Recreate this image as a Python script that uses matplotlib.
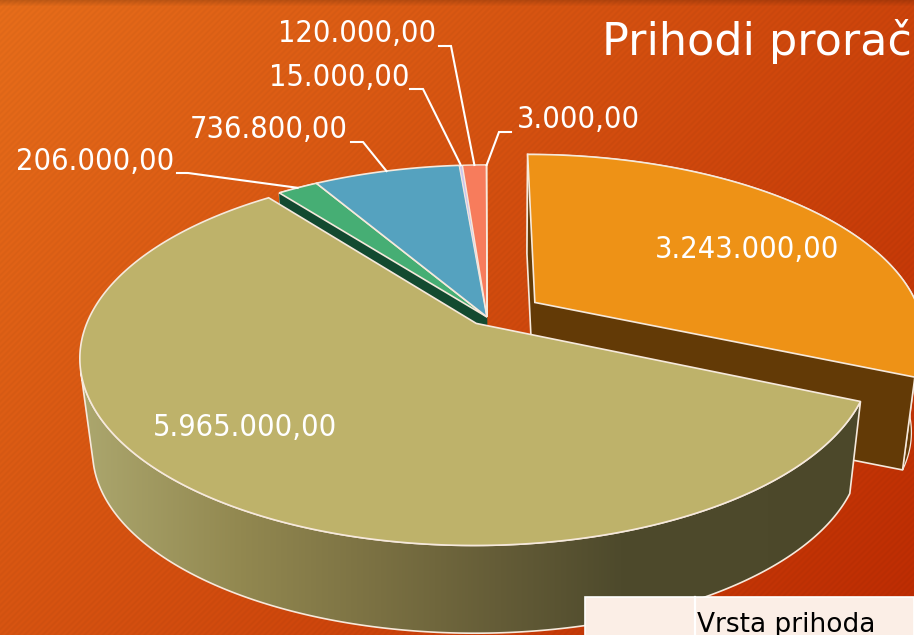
import numpy as np
from matplotlib import pyplot as plt
from matplotlib.patches import Polygon, Rectangle

# values in clockwise order from 12 o'clock
values = [3243000, 5965000, 206000, 736800, 15000, 120000, 3000]
top_colours = ["#ee9216", "#beb26a", "#46ae74", "#55a2bf", "#c9c6f0", "#f77c5c", "#f3d9cc"]
wall_colours = ["#633a06", "#4c4a2c", "#134a30", "#134a30", "#134a30", "#134a30", "#134a30"]
edge_widths = [1.2, 1.2, 1.2, 1.2, 0.4, 1.0, 0.8]
explode = [0.15, 0.045, 0, 0, 0, 0, 0]

# label position (left, centre y) and leader elbow for the outside labels
label_pos = [(655, 250), (153, 428), (16, 161), (190, 129), (269, 77), (278, 33), (517, 120)]
leaders = {
    2: [(177, 173), (188, 173)],
    3: [(351, 142), (363, 142)],
    4: [(410, 89), (423, 89)],
    5: [(439, 46), (451, 46)],
    6: [(511, 132), (499, 132)],
}

# perspective of the pie, in pixels
CX, CY = 487, 317
RX, RY = 387, 179.5
K = 0.18
# bottom plane is the top plane scaled towards a vanishing point
VX, VY, S = 505, 3470, 0.97

EDGE = "#f6e9dc"
FONT = dict(family="DejaVu Sans", stretch="condensed")


def project(X, Y):
    w = 1 + K * Y
    return CX + RX * X / w, CY - RY * Y / w


def lower(x, y):
    return VX + S * (x - VX), VY + S * (y - VY)


fig = plt.figure(figsize=(9.14, 6.35), dpi=100)
ax = fig.add_axes([0, 0, 1, 1])

# background: diagonal gradient, fine stripes, dark strip along the top
yy, xx = np.mgrid[0:635, 0:914]
t = np.clip(xx / 914 * 0.62 + yy / 635 * 0.38, 0, 1)
c0 = np.array([228, 108, 26])
c1 = np.array([186, 42, 2])
bg = c0[None, None, :] * (1 - t[..., None]) + c1[None, None, :] * t[..., None]
stripes = 1 + 0.018 * np.sin((xx + yy) * 2 * np.pi / 6)
top_strip = 1 - 0.16 * np.clip(1 - yy / 6, 0, 1)
bg = bg * stripes[..., None] * top_strip[..., None]
ax.imshow(bg.astype(np.uint8), extent=(0, 914, 635, 0), aspect="auto", zorder=0,
          interpolation="nearest")

angles = np.concatenate([[0], np.cumsum(values) / np.sum(values) * 360])
mid_points = {}
geometry = {}
for i in range(len(values)):
    th = np.radians(np.linspace(angles[i], angles[i + 1], 400))
    mid = np.radians((angles[i] + angles[i + 1]) / 2)
    ex, ey = explode[i] * np.sin(mid), explode[i] * np.cos(mid)
    ax_x, ax_y = project(ex, ey)
    arc_x, arc_y = project(ex + np.sin(th), ey + np.cos(th))
    mid_points[i] = project(ex + np.sin(mid), ey + np.cos(mid))
    geometry[i] = (ax_x, ax_y, arc_x, arc_y)

z = 1


def draw_walls(i, radial_ends):
    global z
    ax_x, ax_y, arc_x, arc_y = geometry[i]
    low_x, low_y = lower(arc_x, arc_y)
    low_ax, low_ay = lower(ax_x, ax_y)
    if i == 1:
        # cut the rim where it folds behind the top, so the left side gets a straight edge
        cross = np.gradient(arc_x) * (low_y - arc_y) - np.gradient(arc_y) * (low_x - arc_x)
        fold = np.nonzero(np.sign(cross) != np.sign(cross[0]))[0][0]
        wall = np.column_stack([np.r_[arc_x[:fold], low_x[:fold][::-1]],
                                np.r_[arc_y[:fold], low_y[:fold][::-1]]])
        # main slice rim darkens from left to right
        grad_x = np.arange(0, 914)
        stops = [80, 240, 380, 500, 620, 914]
        grad = np.column_stack([
            np.interp(grad_x, stops, [172, 146, 122, 100, 78, 76]),
            np.interp(grad_x, stops, [167, 136, 112, 92, 74, 72]),
            np.interp(grad_x, stops, [110, 80, 66, 55, 44, 42]),
        ])[None, :, :].astype(np.uint8)
        patch = Polygon(wall, fc="none", ec=EDGE, lw=1.2, zorder=z + 1)
        ax.add_patch(patch)
        im = ax.imshow(grad, extent=(0, 914, 635, 0), aspect="auto", zorder=z)
        im.set_clip_path(patch)
        z += 2
    else:
        wall = np.column_stack([np.r_[arc_x, low_x[::-1]], np.r_[arc_y, low_y[::-1]]])
        ax.add_patch(Polygon(wall, fc=wall_colours[i], ec=EDGE, lw=0.9, zorder=z))
        z += 1
    for k in radial_ends:
        quad = [(ax_x, ax_y), (arc_x[k], arc_y[k]), (low_x[k], low_y[k]), (low_ax, low_ay)]
        ax.add_patch(Polygon(quad, fc=wall_colours[i], ec=wall_colours[i], lw=0.4, zorder=z))
        z += 1
        if i == 0:
            ax.plot([arc_x[k], low_x[k], low_ax], [arc_y[k], low_y[k], low_ay],
                    color=EDGE, lw=1.2, zorder=z)
            z += 1


def draw_top(i):
    global z
    ax_x, ax_y, arc_x, arc_y = geometry[i]
    top = np.column_stack([np.r_[ax_x, arc_x], np.r_[ax_y, arc_y]])
    ax.add_patch(Polygon(top, fc=top_colours[i], ec=EDGE, lw=edge_widths[i], zorder=z))
    z += 1


# back slices first, only the green one shows a wall
draw_walls(2, [0])
for i in [2, 3, 4, 5, 6]:
    draw_top(i)
draw_walls(0, [0, -1])
draw_top(0)
draw_walls(1, [])
draw_top(1)

# leader lines run from the label elbow to the middle of the slice's rim
for i, elbow in leaders.items():
    px = [p[0] for p in elbow] + [mid_points[i][0]]
    py = [p[1] for p in elbow] + [mid_points[i][1]]
    ax.plot(px, py, color="white", lw=1.5, zorder=z, solid_joinstyle="miter")

for v, (lx, ly) in zip(values, label_pos):
    label = f"{v:,.2f}".replace(",", "#").replace(".", ",").replace("#", ".")
    ax.text(lx, ly, label, color="white", fontsize=22, ha="left", va="center", zorder=z + 1, **FONT)

ax.text(602, 55, "Prihodi prorač", color="white", fontsize=32, ha="left", va="baseline",
        family="DejaVu Sans", zorder=z + 1)

# corner of the table
ax.add_patch(Rectangle((585, 597), 329, 40, fc="#fbeee6", ec="white", lw=1.2, zorder=z + 2))
ax.plot([695, 695], [597, 635], color="white", lw=1.6, zorder=z + 3)
ax.text(697, 632, "Vrsta prihoda", color="black", fontsize=19, ha="left", va="baseline",
        family="DejaVu Sans", zorder=z + 3)

ax.set_xlim(0, 914)
ax.set_ylim(635, 0)
ax.axis("off")
fig.savefig("out.png", dpi=100)
